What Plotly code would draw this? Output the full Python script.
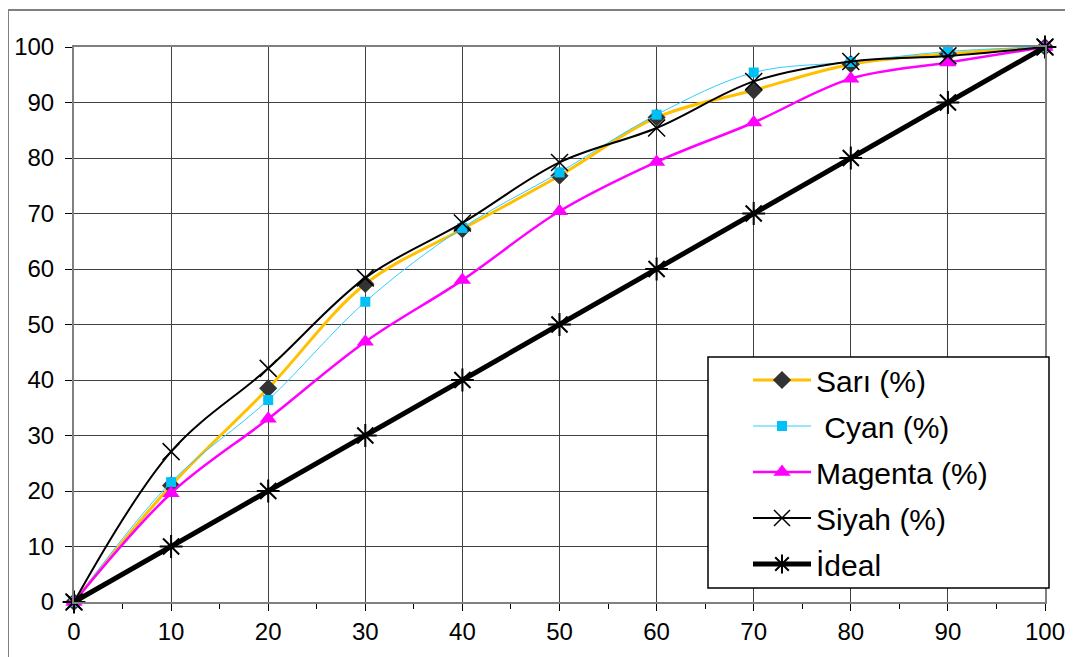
import plotly.graph_objects as go

# percentage points on the x axis
x_vals = [0, 10, 20, 30, 40, 50, 60, 70, 80, 90, 100]

sari = [0, 21, 38.5, 57.3, 67.2, 76.8, 87.3, 92.2, 96.9, 98.8, 100]
cyan = [0, 21.6, 36.4, 54.1, 67.4, 77.4, 87.8, 95.4, 97.3, 99.2, 100]
magenta = [0, 19.6, 33, 46.9, 58, 70.4, 79.3, 86.4, 94.3, 97.2, 100]
siyah = [0, 27.1, 42.1, 58.4, 68.3, 79.2, 85.4, 93.8, 97.4, 98.4, 100]
ideal = [0, 10, 20, 30, 40, 50, 60, 70, 80, 90, 100]

names = ["Sarı (%)", " Cyan (%)", "Magenta (%)", "Siyah (%)", "İdeal"]

# page body has an 8px margin, so the figure sits 8px right/down in the screenshot
OFF = 8
W, H = 1073, 657
L, T = 74 - OFF, 47 - OFF
pw, ph = 971, 555
R, B = W - L - pw, H - T - ph


def px_x(p):
    return (p - OFF - L) / pw


def px_y(p):
    return (T + ph - (p - OFF)) / ph


fig = go.Figure()

fig.add_trace(go.Scatter(
    x=x_vals, y=sari, name=names[0], mode="lines+markers", legendgroup="a",
    line=dict(color="#FFC000", width=3, shape="spline", smoothing=1),
    marker=dict(symbol="diamond", size=14, color="#333333"), cliponaxis=False))
fig.add_trace(go.Scatter(
    x=x_vals, y=cyan, name=names[1], mode="lines+markers", legendgroup="b",
    line=dict(color="#33CCFF", width=1, shape="spline", smoothing=1),
    marker=dict(symbol="square", size=10, color="#00C0F8"), cliponaxis=False))
fig.add_trace(go.Scatter(
    x=x_vals, y=magenta, name=names[2], mode="lines+markers", legendgroup="c",
    line=dict(color="#FF00FF", width=2.5, shape="spline", smoothing=1),
    marker=dict(symbol="triangle-up", size=15, color="#FF00FF"), cliponaxis=False))
fig.add_trace(go.Scatter(
    x=x_vals, y=siyah, name=names[3], mode="lines+markers", legendgroup="d",
    line=dict(color="black", width=2, shape="spline", smoothing=1),
    marker=dict(symbol="x-thin-open", size=17, color="black", line=dict(width=1.5, color="black")),
    cliponaxis=False))
fig.add_trace(go.Scatter(
    x=x_vals, y=ideal, name=names[4], mode="lines+markers", legendgroup="e",
    line=dict(color="black", width=5),
    marker=dict(symbol="asterisk-open", size=19, color="black", line=dict(width=2, color="black")),
    cliponaxis=False))

# outer chart border (cropped on right and bottom)
fig.add_shape(type="rect", xref="paper", yref="paper",
              x0=px_x(8), x1=px_x(1200), y0=px_y(800), y1=px_y(10),
              line=dict(color="#808080", width=2), fillcolor="rgba(0,0,0,0)", layer="below")
# legend box
fig.add_shape(type="rect", xref="paper", yref="paper",
              x0=px_x(708), x1=px_x(1049), y0=px_y(588), y1=px_y(357),
              line=dict(color="black", width=1.5), fillcolor="white", layer="above")

fig.update_layout(
    width=W, height=H,
    margin=dict(l=L, r=R, t=T, b=B),
    paper_bgcolor="white", plot_bgcolor="white",
    font=dict(family="Liberation Sans, Arial, sans-serif", color="black", size=24),
    legend=dict(
        x=px_x(748), y=px_y(354), xanchor="left", yanchor="top",
        bgcolor="rgba(0,0,0,0)", borderwidth=0,
        font=dict(size=30), itemwidth=58, tracegroupgap=4,
        traceorder="grouped",
    ),
    xaxis=dict(
        range=[0, 100], tickmode="linear", tick0=0, dtick=10, automargin=False,
        showgrid=True, gridcolor="#404040", gridwidth=1,
        showline=True, linecolor="#808080", linewidth=2, mirror=True,
        ticks="outside", ticklen=7, tickcolor="black", tickwidth=1,
        minor=dict(dtick=5, ticks="outside", ticklen=5, tickcolor="black", showgrid=False),
        zeroline=False,
    ),
    yaxis=dict(
        range=[0, 100], tickmode="linear", tick0=0, dtick=10, automargin=False,
        showgrid=True, gridcolor="#404040", gridwidth=1,
        showline=True, linecolor="#808080", linewidth=2, mirror=True,
        ticks="outside", ticklen=7, tickcolor="black", tickwidth=1,
        ticklabelstandoff=6, zeroline=False,
    ),
)

fig.write_html("out.html")
